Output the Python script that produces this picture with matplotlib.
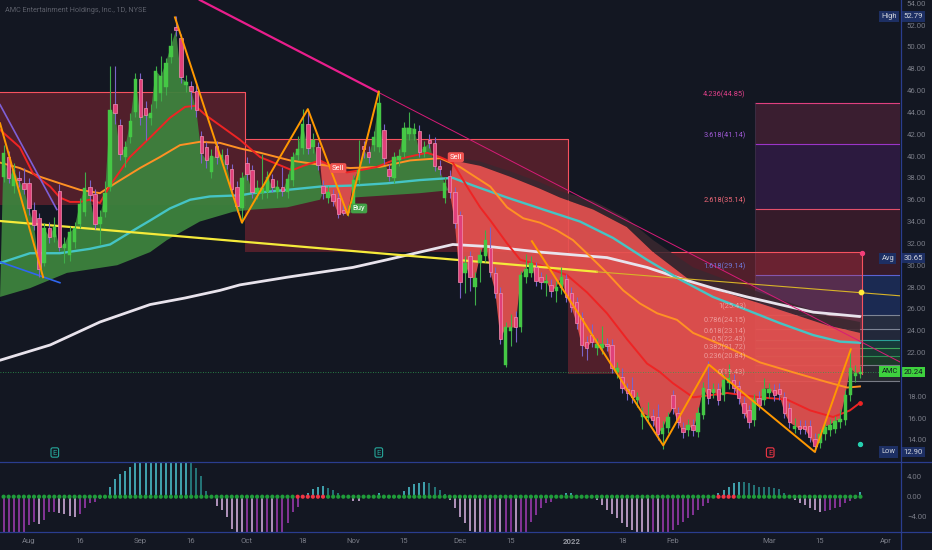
import numpy as np
import pandas as pd
import matplotlib
matplotlib.use('Agg')
import matplotlib.pyplot as plt
from matplotlib.patches import Rectangle, Polygon
from matplotlib.lines import Line2D
from matplotlib.transforms import blended_transform_factory

plt.rcParams['font.family'] = ['Roboto', 'DejaVu Sans']

# ---------------- data (daily bars from 2021-07-26) ----------------
holidays = ['2021-09-06', '2021-11-25', '2021-12-24', '2022-01-17', '2022-02-21']
tick_dates = ['2021-08-02', '2021-08-16', '2021-09-01', '2021-09-16', '2021-10-01', '2021-10-18',
              '2021-11-01', '2021-11-15', '2021-12-01', '2021-12-15', '2022-01-03', '2022-01-18',
              '2022-02-01', '2022-03-01', '2022-03-15', '2022-04-01']
tick_labels = ['Aug', '16', 'Sep', '16', 'Oct', '18', 'Nov', '15', 'Dec', '15', '2022', '18',
               'Feb', 'Mar', '15', 'Apr']

opens = [38.1,39.9,37.3,38.0,37.5,37.5,35.1,34.3,30.2,33.4,
32.6,36.8,31.6,30.9,32.1,33.8,34.9,37.2,36.5,33.8,
34.9,37.2,44.8,42.8,39.9,41.7,44.0,47.1,44.4,43.5,
45.0,45.8,46.3,49.1,51.8,50.8,46.5,46.4,46.0,41.8,
40.8,38.5,40.9,39.8,40.1,38.8,37.2,35.2,39.4,38.7,
36.6,36.6,36.7,37.9,36.7,37.2,36.7,37.8,40.1,40.7,
42.9,40.8,40.8,37.3,36.2,36.5,36.2,35.1,34.8,35.2,
37.8,40.9,40.4,41.0,40.8,42.4,38.8,38.0,39.6,40.4,
42.0,42.0,42.3,40.4,41.5,41.2,39.1,36.2,38.2,36.7,
34.6,29.3,30.8,28.0,30.2,30.8,31.6,29.3,27.5,20.9,
24.0,25.3,24.3,28.9,29.3,29.8,28.9,28.4,28.2,27.6,
27.9,28.7,27.5,26.6,25.2,23.0,23.6,22.4,22.4,22.8,
22.7,20.2,19.8,18.7,18.6,17.7,16.1,16.0,16.2,16.1,
14.5,15.1,18.1,16.5,15.1,14.9,15.4,14.7,16.3,18.7,
18.3,18.7,18.1,19.2,19.5,18.9,17.4,16.7,15.8,17.8,
17.7,18.3,18.6,18.7,17.9,16.9,15.0,15.3,15.3,15.3,
14.1,13.7,14.5,14.9,15.0,15.6,15.8,18.1,19.9,20.0]

closes = [40.3,38.0,38.7,37.8,37.0,35.2,33.7,29.7,33.4,32.6,
33.5,31.7,31.9,33.0,33.4,35.6,37.1,36.4,33.8,34.4,
36.6,44.2,43.9,40.2,40.8,43.2,47.1,43.6,43.8,43.9,
47.8,47.3,48.5,50.1,51.5,47.2,46.8,46.0,44.2,40.3,
39.6,40.0,39.9,40.1,39.3,37.0,35.4,38.0,38.4,36.7,
37.1,37.1,38.1,37.2,37.2,36.8,37.9,39.9,40.6,42.9,
40.7,41.5,39.2,36.6,36.7,35.9,34.7,34.8,35.0,37.8,
38.7,40.6,39.9,41.7,44.9,39.8,38.2,39.9,40.0,42.6,
42.6,42.5,40.4,40.8,41.2,39.1,38.8,37.5,36.7,33.9,
28.5,30.2,28.9,28.8,30.9,32.3,29.4,27.5,23.2,24.3,
24.3,24.3,29.1,29.7,30.2,28.6,28.5,28.6,27.6,28.0,
28.9,27.1,26.2,24.7,22.7,22.4,23.0,22.8,22.8,22.6,
20.6,20.6,18.8,18.3,17.9,17.9,16.5,16.2,15.8,14.5,
15.1,16.1,16.9,15.6,14.7,15.4,14.9,16.5,18.8,17.8,
18.7,17.7,19.5,19.7,18.8,17.8,16.5,15.6,17.7,17.2,
18.7,18.7,18.1,18.2,16.5,15.6,15.3,15.0,15.0,14.3,
13.4,14.5,15.2,15.4,15.7,15.9,18.1,20.6,20.1,20.24]

highs = [41.0,40.5,39.4,38.6,38.9,38.0,35.8,34.8,33.9,34.0,
34.4,37.4,32.6,33.6,34.0,36.2,38.5,37.8,37.0,35.1,
37.7,48.2,48.2,43.4,41.4,43.9,47.6,47.6,45.0,44.8,
48.2,49.2,49.0,51.3,52.79,51.2,47.4,46.9,46.5,42.3,
41.3,40.6,41.4,40.6,40.7,39.3,37.7,38.5,39.9,39.2,
37.8,40.2,38.6,38.4,37.8,39.0,38.4,40.4,41.8,44.3,
44.3,42.1,41.3,37.8,37.3,37.0,36.7,35.6,35.5,38.3,
41.5,41.4,40.9,42.3,45.9,42.9,39.3,40.4,40.6,43.1,
44.0,43.0,42.8,41.4,42.0,41.7,39.6,38.1,38.7,37.2,
35.0,30.8,31.3,29.4,31.5,33.2,33.5,29.8,28.0,24.8,
25.5,25.8,29.5,31.0,30.8,30.3,29.4,29.2,28.7,28.6,
29.8,29.2,28.0,27.1,25.7,23.5,24.6,23.3,24.4,23.3,
23.2,21.1,20.6,19.2,19.8,18.4,17.0,17.5,16.8,17.3,
15.7,16.6,18.6,17.0,15.6,15.9,15.9,17.0,19.3,21.2,
19.2,19.2,20.0,21.0,20.0,19.4,17.9,17.2,18.2,18.5,
19.7,19.2,19.1,19.2,18.4,17.4,16.0,15.8,15.8,15.8,
14.6,15.0,15.7,15.9,16.2,16.8,18.6,22.4,20.9,20.8]

lows = [37.6,37.5,36.6,37.2,36.5,34.6,33.2,28.9,29.9,32.0,
32.1,31.3,30.2,30.4,31.6,33.4,34.5,35.9,33.3,31.9,
34.4,36.8,42.9,39.6,39.0,41.2,43.6,42.8,41.5,42.8,
44.4,45.0,45.6,48.5,51.0,46.7,45.9,44.3,43.6,39.4,
38.9,38.0,39.3,39.3,38.8,36.5,34.9,33.9,37.8,36.2,
36.1,36.1,36.2,36.7,36.2,36.3,36.2,37.3,39.6,40.2,
40.2,40.3,38.7,36.1,35.7,35.4,34.3,34.6,34.5,34.9,
37.4,39.8,39.4,40.5,40.4,39.3,37.7,37.5,39.1,39.9,
41.5,41.5,39.9,39.9,40.7,38.6,38.3,35.7,36.2,33.4,
27.0,27.5,27.6,26.4,28.5,30.3,28.9,27.0,22.8,20.7,
22.6,23.0,23.9,28.4,28.9,28.1,27.8,27.2,27.1,26.6,
27.4,26.6,25.7,24.2,21.7,21.3,22.5,21.8,21.9,22.1,
20.1,19.7,18.3,17.7,17.4,17.0,15.0,15.6,15.3,14.0,
13.2,14.6,16.4,15.1,14.2,14.4,14.4,14.3,15.9,17.3,
17.8,17.2,17.6,18.7,18.3,17.3,16.0,15.1,15.3,16.7,
17.2,17.8,17.6,17.7,16.0,15.1,14.6,14.5,14.5,13.8,
12.9,13.3,14.0,14.4,14.6,15.1,15.4,17.6,19.3,19.7]

momentum = [-7.8,-7.6,-7.4,-7.2,-7.1,-5.6,-5.0,-5.5,-4.7,-3.1,
-3.0,-3.2,-3.5,-3.9,-4.0,-3.5,-2.3,-1.3,-1.0,-0.5,
0.05,2.0,3.5,4.5,5.2,6.0,7.5,8.0,8.5,9.0,
9.5,9.8,10.0,10.1,10.3,10.4,10.5,9.0,5.7,4.1,
1.2,0.1,-1.9,-2.7,-4.0,-6.5,-8.0,-8.5,-8.3,-8.9,
-8.6,-9.2,-9.0,-9.4,-9.1,-8.8,-5.3,-3.0,-2.0,-0.05,
0.7,1.5,2.0,2.1,1.7,1.3,0.7,0.05,-0.1,-0.8,
-0.85,-0.1,0.05,0.06,0.8,0.1,0.1,0.2,0.3,1.2,
1.9,2.5,2.8,2.85,2.8,2.0,1.3,0.5,-0.7,-2.3,
-4.1,-5.3,-6.8,-7.5,-8.0,-7.8,-8.4,-8.2,-8.8,-8.6,
-8.5,-8.7,-8.3,-7.6,-5.0,-3.7,-2.3,-1.3,-1.0,-0.2,
-0.1,0.7,0.8,0.2,0.1,0.1,0.05,-0.7,-1.7,-2.7,
-3.5,-4.3,-5.3,-6.0,-6.7,-7.5,-8.0,-8.5,-8.3,-8.9,
-8.7,-8.0,-6.6,-5.7,-5.0,-4.3,-3.7,-2.7,-1.9,-1.2,
0.05,0.7,1.3,2.0,2.8,3.0,2.9,2.7,2.3,2.0,
1.95,1.9,1.7,1.5,0.8,0.05,-0.7,-1.3,-1.7,-2.3,
-2.7,-3.0,-2.9,-2.6,-2.3,-2.0,-1.3,-0.8,-0.5,1.0]
squeeze_on = list(range(58, 64)) + list(range(141, 145))

# moving averages (bar index, price)
red_x = [-0.7,3.2,5.8,9.2,11.1,13.1,15.1,17.0,19.0,21.0,24.9,28.9,32.8,35.8,37.8,39.7,42.7,46.6,50.6,56.9,
         59.1,62.4,65.0,67.7,70.3,73.6,76.8,79.6,83.5,86.1,88.6,91.4,94.0,96.0,99.3,101.9,105.8,111.1,115.1,
         119.0,123.0,126.9,129.5,132.0,136.0,142.7,149.2,154.5,159.1,163.6,166.9,168.9]
red_y = [42.4,40.8,38.4,37.2,36.2,35.8,35.8,36.0,35.7,37.3,39.9,41.7,43.5,44.5,44.6,43.8,42.8,41.5,39.9,38.7,
         39.1,39.6,39.0,38.5,38.7,39.0,39.6,39.9,40.3,39.9,39.4,37.2,35.3,34.1,32.0,30.5,30.0,29.1,27.5,
         25.6,23.2,21.0,20.2,19.2,17.9,18.3,17.9,17.7,16.7,16.1,16.7,17.4]
orange_x = [-0.7,3.2,7.2,11.1,15.1,19.0,22.0,26.9,30.8,34.8,38.7,42.7,46.6,50.6,56.5,62.4,68.3,74.2,80.2,86.1,
            90.0,94.0,96.0,99.3,102.5,105.8,109.1,112.3,115.7,119.0,122.2,125.5,128.9,132.8,136.0,142.7,149.2,
            155.7,162.4,166.4,168.9]
orange_y = [39.4,38.9,38.1,37.5,36.9,36.6,37.5,38.9,39.9,41.0,41.3,41.2,40.7,40.3,39.6,39.2,38.9,39.0,39.6,39.8,
            39.0,37.8,37.2,35.3,34.3,33.9,33.2,32.3,30.8,29.3,27.7,26.5,25.6,25.0,23.8,22.5,21.1,
            20.2,19.3,18.8,18.9]
teal_x = [-0.7,5.2,11.1,17.0,21.0,24.9,28.9,32.8,36.8,40.7,46.6,49.2,55.9,62.4,68.9,75.6,82.1,88.6,92.6,99.3,
          105.8,113.7,120.2,126.9,133.4,139.9,146.6,153.1,159.7,165.0,168.9]
teal_y = [30.2,31.1,31.1,31.5,31.9,33.0,34.1,35.2,36.0,36.3,36.4,36.6,36.9,37.2,37.3,37.5,37.8,38.0,37.3,36.2,
          35.2,34.0,32.5,30.5,28.7,27.1,25.9,24.7,23.6,23.0,22.9]
white_x = [-0.7,9.2,19.0,28.9,35.8,42.7,46.6,55.9,68.9,75.6,82.1,88.6,96.0,105.8,113.7,119.0,126.9,133.4,
           139.9,146.6,153.1,159.7,168.9]
white_y = [21.3,22.7,24.8,26.4,27.0,27.7,28.2,28.9,29.8,30.5,31.2,31.9,31.7,31.2,30.9,30.7,29.8,28.8,
           27.9,27.1,26.4,25.7,25.3]

# trend cloud boundaries
green_low_x = [-0.7,5.2,12.5,22.4,28.9,32.2,38.7,45.3,49.2,55.9,62.4,68.9,75.6,82.1,88.6]
green_low_y = [27.1,27.9,29.3,30.0,31.2,32.3,34.0,34.9,35.1,35.3,36.0,36.2,36.4,36.6,36.9]
red_top_x = [88.6,94.0,99.9,105.8,109.7,116.3,122.9,128.1,136.0,149.2,162.4,168.9]
red_top_y = [39.6,39.1,38.1,37.0,36.2,35.1,33.5,31.2,28.4,26.5,24.5,23.8]
band_top_y = [39.9,39.5,38.6,37.6,36.8,35.9,34.3,32.3,29.8,27.5,25.4,24.8]

# drawings
zig1 = ([-0.7, 7.8], [43.0, 28.9])
zig2 = ([33.8, 47.0, 60.0, 67.9, 74.0], [52.7, 33.9, 44.3, 34.6, 45.9])
zig3 = ([104.2, 130.1, 139.1, 160.0, 167.1], [32.2, 13.5, 20.9, 12.9, 22.3])
yellow_line = ([-0.7, 117.0], [34.05, 29.4])
yellow_ext = ([117.0, 176.8], [29.4, 27.2])
magenta_thick = ([38.7, 73.9], [54.29, 45.84])
magenta_thin = ([73.9, 176.8], [45.84, 21.14])
purple_line = ([-0.7, 10.5], [44.7, 35.1])
blue_line = ([-0.7, 11.1], [30.3, 28.4])
boxes = [(-0.7, 47.6, 35.5, 45.9), (47.6, 111.3, 31.2, 41.6), (111.3, 169.3, 20.0, 31.2)]

fib_ratios = ['4.236', '3.618', '2.618', '1.618', '1', '0.786', '0.618', '0.5', '0.382', '0.236', '0']
fib_prices = [44.85, 41.14, 35.14, 29.14, 25.43, 24.15, 23.14, 22.43, 21.72, 20.84, 19.43]
fib_start, fib_label_x = 148.2, 146.4

signals = [('Sell', 66.0, 38.9, '#f05350'), ('Buy', 70.1, 35.2, '#43a047'), ('Sell', 89.2, 39.9, '#f05350')]
earnings = [(10.1, '#26a69a'), (74.0, '#26a69a'), (151.2, '#f23645')]

last_price, high_price, low_price, avg_price = 20.24, 52.79, 12.90, 30.65
price_ticks = [14, 16, 18, 22, 24, 26, 28, 30, 32, 34, 36, 38, 40, 42, 44, 46, 48, 50, 52, 54]

# ---------------- figure ----------------
BG = '#131722'
W, H = 932, 550
fig = plt.figure(figsize=(W / 100, H / 100), dpi=100, facecolor=BG)
ax = fig.add_axes([0, 88 / H, 900 / W, 462 / H], facecolor=BG)
osc = fig.add_axes([0, 18 / H, 900 / W, 70 / H], facecolor=BG)
XL = (-0.71, 176.8)
for a in (ax, osc):
    a.set_xlim(*XL)
    for s in a.spines.values():
        s.set_visible(False)
ax.set_ylim(11.98, 54.29)
osc.set_ylim(-7.06, 6.94)

x = np.arange(len(closes))
o = np.array(opens); c = np.array(closes); h = np.array(highs); l = np.array(lows)

# fib zones
fib_fill = ['#3a1e30', '#2c1a3f', '#361b2a', '#1b2a52', '#262d40', '#22283a', '#173a3a', '#183a33',
            '#1c3a2a', '#262a30']
fib_line = ['#e0407f', '#9b35c9', '#e3506a', '#5b63d3', '#7e8596', '#7e8596', '#2aa198', '#3ea55a',
            '#2f8f55', '#787b86', '#787b86']
fib_text = ['#e0408a', '#a05ad6', '#f06878', '#6f78d8'] + ['#f6bcbc'] * 7
for k in range(len(fib_prices) - 1):
    ax.add_patch(Rectangle((fib_start, fib_prices[k + 1]), XL[1] - fib_start,
                           fib_prices[k] - fib_prices[k + 1], facecolor=fib_fill[k], edgecolor='none', zorder=1))
for k, p in enumerate(fib_prices):
    ax.plot([fib_start, XL[1]], [p, p], color=fib_line[k], lw=0.8, zorder=1.2)
ax.plot([fib_start, fib_start], [fib_prices[-1], fib_prices[0]], color='#3a2f45', lw=0.6, zorder=1.2)

# supply boxes
for (x0, x1, y0, y1) in boxes:
    ax.add_patch(Rectangle((x0, y0), x1 - x0, y1 - y0, facecolor='#f23645', alpha=0.28,
                           edgecolor='none', zorder=1.5))
    ax.plot([x0, x1, x1], [y1, y1, y0], color='#f7525f', lw=0.8, zorder=1.6)

# trend cloud
def poly(xt, yt, xb, yb, color, alpha, z):
    verts = list(zip(xt, yt)) + list(zip(xb[::-1], yb[::-1]))
    ax.add_patch(Polygon(verts, closed=True, facecolor=color, edgecolor='none', alpha=alpha, zorder=z))

gx = np.array(green_low_x); gy = np.array(green_low_y)
m = gx <= 63
poly(x[:64], c[:64], gx[m], gy[m], '#3d823d', 0.95, 2)
m = gx >= 68.5
poly(x[69:89], c[69:89], gx[m], gy[m], '#3d823d', 0.95, 2)
rx = np.array(red_x); ry = np.array(red_y)
m = (rx >= 62) & (rx <= 71)
poly(rx[m], ry[m], x[63:71], c[63:71], '#e65250', 0.9, 2)
poly(np.array(red_top_x), np.array(band_top_y), np.array(red_top_x), np.array(red_top_y), '#3a2830', 0.85, 1.9)
poly(np.array(red_top_x), np.array(red_top_y), x[88:], c[88:], '#e65250', 0.92, 2)

ax.axhline(last_price, color='#2e9e4f', lw=0.6, ls=(0, (1, 2)), zorder=2.5)

# moving averages
ax.plot(white_x, white_y, color='#e8e3ec', lw=2.0, zorder=3, solid_capstyle='round')
ax.plot(teal_x, teal_y, color='#45c4c4', lw=1.7, zorder=3)
ax.plot(orange_x, orange_y, color='#ff9124', lw=1.4, zorder=3)
ax.plot(red_x, red_y, color='#ee2424', lw=1.4, zorder=3)
ax.plot(*yellow_line, color='#f5ea3a', lw=1.6, zorder=3.1)
ax.plot(*yellow_ext, color='#d8b428', lw=0.8, zorder=3.1)
ax.plot(*magenta_thick, color='#e91e8c', lw=1.6, zorder=3.1)
ax.plot(*magenta_thin, color='#d81b78', lw=0.7, zorder=3.1)
ax.plot(*purple_line, color='#7e5fd6', lw=1.2, zorder=3.1)
ax.plot(*blue_line, color='#2f66f0', lw=1.2, zorder=3.1)

# candles
up = c >= o
wick_col = np.where(up, '#3fae4a', '#7a63c8')
ax.vlines(x, l, h, colors=wick_col, lw=0.8, zorder=4)
body_h = np.maximum(np.abs(c - o), 0.12)
ax.bar(x[up], body_h[up], bottom=np.minimum(o, c)[up], width=0.68, color='#45c845',
       edgecolor='#45c845', lw=0.3, zorder=4.1)
ax.bar(x[~up], body_h[~up], bottom=np.minimum(o, c)[~up], width=0.68, color='#e0407a',
       edgecolor='#f48fb1', lw=0.5, zorder=4.1)

# zigzags
for zx, zy in (zig1, zig2, zig3):
    ax.plot(zx, zy, color='#ff9800', lw=1.4, zorder=5)

# end markers
ax.scatter([169.1], [27.55], s=10, color='#ffeb3b', zorder=6)
ax.scatter([169.3], [31.1], s=8, color='#f23f7a', zorder=6)
ax.scatter([168.9], [13.63], s=8, color='#26d0b0', zorder=6)
ax.scatter([169.0], [17.4], s=6, color='#ee2424', zorder=6)

# fib labels
for k, (r, p) in enumerate(zip(fib_ratios, fib_prices)):
    ax.text(fib_label_x, p + 0.78, f'{r}({p:.2f})', color=fib_text[k], fontsize=5.3,
            ha='right', va='center', alpha=1.0 if k < 4 else 0.7, zorder=6)

# signals
for txt, sx, sy, col in signals:
    ax.text(sx, sy, txt, color='white', fontsize=5.5, ha='center', va='center', zorder=7,
            bbox=dict(boxstyle='round,pad=0.25', fc=col, ec='none'))
for ex, col in earnings:
    ax.text(ex, 12.85, 'E', color=col, fontsize=5.5, ha='center', va='center', zorder=7,
            bbox=dict(boxstyle='round,pad=0.22', fc=BG, ec=col, lw=0.8))

# price axis
ax.yaxis.tick_right()
ax.set_yticks(price_ticks)
ax.set_yticklabels([f'{t:.2f}' for t in price_ticks])
ax.tick_params(axis='y', colors='#787b86', labelsize=5.6, length=0, pad=5)
ax.tick_params(axis='x', labelbottom=False, length=0)

tr = blended_transform_factory(ax.transAxes, ax.transData)
navy = '#1d2f63'
for name, val in (('High', high_price), ('Avg', avg_price), ('Low', low_price)):
    ax.text(0.9795, val, name, transform=tr, color='#d1d4dc', fontsize=5.4, ha='left', va='center',
            zorder=8, clip_on=False, bbox=dict(boxstyle='square,pad=0.28', fc=navy, ec='none'))
    ax.text(1.004, val, f'{val:.2f}', transform=tr, color='#d1d4dc', fontsize=5.6, ha='left',
            va='center', zorder=8, clip_on=False, bbox=dict(boxstyle='square,pad=0.28', fc=navy, ec='none'))
ax.text(0.9795, last_price, 'AMC', transform=tr, color='#131722', fontsize=5.4, ha='left', va='center',
        zorder=8, clip_on=False, bbox=dict(boxstyle='square,pad=0.28', fc='#3ed13e', ec='none'))
ax.text(1.004, last_price, f'{last_price:.2f}', transform=tr, color='#131722', fontsize=5.6, ha='left',
        va='center', zorder=8, clip_on=False, bbox=dict(boxstyle='square,pad=0.28', fc='#3ed13e', ec='none'))

# oscillator
mom = np.array(momentum)
prev = np.concatenate([[mom[0]], mom[:-1]])
cols = []
for v, pv in zip(mom, prev):
    if v >= 0:
        cols.append('#4dc9d6' if v >= pv else '#2a9090')
    else:
        cols.append('#dcb6e6' if v < pv else '#a33cb8')
osc.vlines(x, 0, mom, colors=cols, lw=1.1, zorder=2)
dot_cols = ['#f23645' if i in squeeze_on else '#1f9d3a' for i in x]
osc.scatter(x, np.zeros_like(mom), s=9, c=dot_cols, zorder=3, linewidths=0)
osc.yaxis.tick_right()
osc.set_yticks([4, 0, -4])
osc.set_yticklabels(['4.00', '0.00', '\u22124.00'])
osc.tick_params(axis='y', colors='#787b86', labelsize=5.6, length=0, pad=5)

days = pd.bdate_range('2021-07-26', '2022-04-29', freq='C', holidays=holidays)
pos = [days.get_loc(pd.Timestamp(d)) for d in tick_dates]
osc.set_xticks(pos)
osc.set_xticklabels(tick_labels)
osc.tick_params(axis='x', colors='#787b86', labelsize=5.6, length=0, pad=4)
for t in osc.get_xticklabels():
    if t.get_text() == '2022':
        t.set_fontweight('bold')
        t.set_color('#9598a1')

# pane borders
bc = '#2a3d8f'
fig.add_artist(Line2D([0, 1], [88 / H, 88 / H], transform=fig.transFigure, color=bc, lw=0.9))
fig.add_artist(Line2D([0, 1], [18 / H, 18 / H], transform=fig.transFigure, color=bc, lw=0.9))
fig.add_artist(Line2D([900.7 / W, 900.7 / W], [0, 1], transform=fig.transFigure, color=bc, lw=0.9))

fig.text(5 / W, 1 - 11 / H, 'AMC Entertainment Holdings, Inc., 1D, NYSE', color='#5d606b', fontsize=5.2,
         ha='left', va='center')

fig.savefig('out.png', dpi=100, facecolor=BG)
